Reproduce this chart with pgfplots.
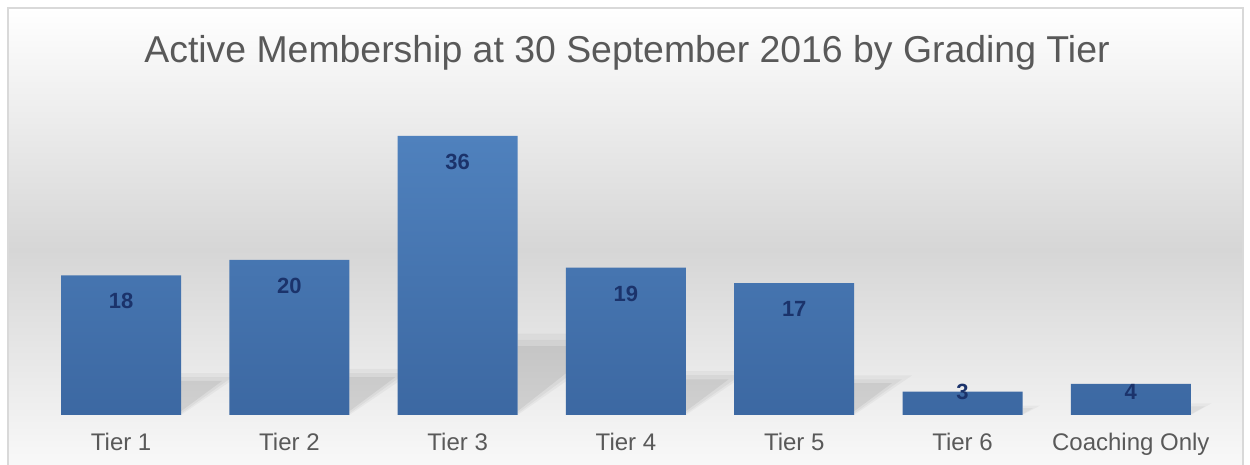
\documentclass[border=0pt]{standalone}
\usepackage{pgfplots}
\pgfplotsset{compat=1.18}
\usepackage{pgfplotstable}
\usepackage{fontspec}
\setmainfont{Liberation Sans}
\definecolor{titlegray}{HTML}{595959}
\definecolor{valblue}{HTML}{1B336B}
\definecolor{bartop}{HTML}{4F81BD}
\definecolor{barbot}{HTML}{3C68A2}
\definecolor{bggray}{HTML}{D6D6D6}
\definecolor{bgbottom}{HTML}{FAFAFA}
\definecolor{bordergray}{HTML}{D9D9D9}
\pgfplotstableread{
x y
0 18
1 20
2 36
3 19
4 17
5 3
6 4
}\bars
\pgfplotstableread{
x ypos label
0 14.7 18
1 16.6 20
2 32.6 36
3 15.6 19
4 13.7 17
5 2.97 3
6 3.0 4
}\labels
\begin{document}
\begin{tikzpicture}[x=1pt,y=1pt]
\path[use as bounding box] (0,0) rectangle (1250,465);
\begin{scope}
\clip (0,0) rectangle (1250,465);
\fill[white] (0,0) rectangle (1250,465);
\shade[top color=white,bottom color=bggray] (8,215) rectangle (1243,457);
\shade[top color=bggray,bottom color=bgbottom] (8,-10) rectangle (1243,215.5);
\draw[bordergray,line width=1.5pt] (8,-10) rectangle (1243,457);
\end{scope}
\node[anchor=base,font=\fontsize{37.4}{40}\selectfont,text=titlegray,inner sep=0pt] at (627,402) {Active Membership at 30 September 2016 by Grading Tier};
\begin{axis}[
  at={(37pt,50pt)}, anchor=south west,
  scale only axis, width=1178pt, height=310pt,
  xmin=-0.5, xmax=6.5, ymin=0, ymax=40,
  axis line style={draw=none},
  major tick length=0pt,
  clip=false,
  xtick={0,...,6}, ytick=\empty,
  xticklabels={Tier 1,Tier 2,Tier 3,Tier 4,Tier 5,Tier 6,Coaching Only},
  xticklabel style={anchor=base, yshift=-36pt, font=\fontsize{24}{26}\selectfont, text=titlegray},
  sh1/.style={draw=none, fill=black, fill opacity=0.035},
  sh2/.style={draw=none, fill=black, fill opacity=0.045},
  sh3/.style={draw=none, fill=black, fill opacity=0.06},
]
\addplot[sh1] coordinates {(0.3565,0) (0.3565,5.4) (0.72,5.4)} --cycle;
\addplot[sh2] coordinates {(0.3565,0.2) (0.3565,4.9) (0.66,4.9)} --cycle;
\addplot[sh3] coordinates {(0.3565,0.5) (0.3565,4.4) (0.60,4.4)} --cycle;
\addplot[sh1] coordinates {(1.3565,0) (1.3565,5.95) (1.76,5.95)} --cycle;
\addplot[sh2] coordinates {(1.3565,0.2) (1.3565,5.4) (1.69,5.4)} --cycle;
\addplot[sh3] coordinates {(1.3565,0.5) (1.3565,4.9) (1.63,4.9)} --cycle;
\addplot[sh1] coordinates {(2.3565,0) (2.3565,10.5) (3.05,10.5)} --cycle;
\addplot[sh2] coordinates {(2.3565,0.2) (2.3565,9.7) (2.95,9.7)} --cycle;
\addplot[sh3] coordinates {(2.3565,0.5) (2.3565,8.9) (2.85,8.9)} --cycle;
\addplot[sh1] coordinates {(3.3565,0) (3.3565,5.65) (3.74,5.65)} --cycle;
\addplot[sh2] coordinates {(3.3565,0.2) (3.3565,5.13) (3.68,5.13)} --cycle;
\addplot[sh3] coordinates {(3.3565,0.5) (3.3565,4.6) (3.61,4.6)} --cycle;
\addplot[sh1] coordinates {(4.3565,0) (4.3565,5.1) (4.70,5.1)} --cycle;
\addplot[sh2] coordinates {(4.3565,0.2) (4.3565,4.6) (4.64,4.6)} --cycle;
\addplot[sh3] coordinates {(4.3565,0.5) (4.3565,4.1) (4.58,4.1)} --cycle;
\addplot[sh1] coordinates {(5.3565,0) (5.3565,1.2) (5.46,1.2)} --cycle;
\addplot[sh2] coordinates {(5.3565,0.1) (5.3565,0.9) (5.42,0.9)} --cycle;
\addplot[sh1] coordinates {(6.3565,0) (6.3565,1.5) (6.48,1.5)} --cycle;
\addplot[sh2] coordinates {(6.3565,0.1) (6.3565,1.1) (6.44,1.1)} --cycle;
\addplot[ybar, bar width=120pt, draw=none, top color=bartop, bottom color=barbot] table[x=x,y=y] {\bars};
\addplot[draw=none, mark=none, nodes near coords, point meta=explicit symbolic,
  every node near coord/.append style={anchor=center, inner sep=0pt, font=\fontsize{22}{24}\selectfont\bfseries, text=valblue}]
  table[x=x,y=ypos,meta=label] {\labels};
\end{axis}
\end{tikzpicture}
\end{document}
